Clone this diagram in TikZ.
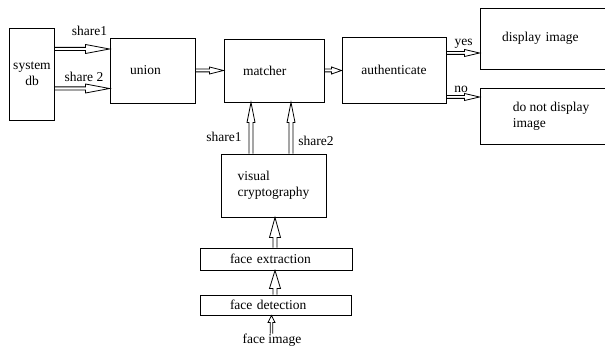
\documentclass[tikz,border=0pt]{standalone}
\usepackage{fontspec}
\setmainfont{Liberation Serif}
\usetikzlibrary{calc}

\tikzset{
  every node/.style={font=\fontsize{13.5}{16}\selectfont},
  box/.style 2 args={draw, line width=0.9pt, rectangle, inner sep=0pt,
    minimum width=#1pt, minimum height=#2pt, align=center},
  % left-aligned text in a field of the given width, centred in the box
  field/.style={align=left, text width=#1pt},
  lbl/.style={inner sep=0pt},
  blockline/.style={draw, line width=0.8pt, line join=miter},
}

% hollow block arrows from #4 to #5:
% #1 head length, #2 head half width, #3 shaft half width
% rightward
\newcommand\harr[5]{%
  \draw[blockline] let \p1=(#4), \p2=(#5) in
      (\x1,{\y1+#3pt}) -- ({\x2-#1pt},{\y1+#3pt}) -- ({\x2-#1pt},{\y1+#2pt})
      -- (\x2,\y1)
      -- ({\x2-#1pt},{\y1-#2pt}) -- ({\x2-#1pt},{\y1-#3pt}) -- (\x1,{\y1-#3pt});}
% upward
\newcommand\varr[5]{%
  \draw[blockline] let \p1=(#4), \p2=(#5) in
      ({\x1+#3pt},\y1) -- ({\x1+#3pt},{\y2-#1pt}) -- ({\x1+#2pt},{\y2-#1pt})
      -- (\x1,\y2)
      -- ({\x1-#2pt},{\y2-#1pt}) -- ({\x1-#3pt},{\y2-#1pt}) -- ({\x1-#3pt},\y1);}

\begin{document}
\begin{tikzpicture}[x=1pt,y=-1pt]
\useasboundingbox (0,0) rectangle (605,350);
\clip (0,0) rectangle (605,350);

% boxes
\node[box={45}{92}]  (db)      at (32,74)     {system\\db};
\node[box={85}{65}, field=45]  (union)   at (152.5,70.5) {union};
\node[box={100}{63}, field=62] (matcher) at (274,70.5)  {matcher};
\node[box={104}{66}] (auth)    at (394,70)    {authenticate};
\node[box={132}{61}, field=88] (disp)    at (546,38.5)  {display image};
\node[box={142}{56}, align=left] (nodisp) at (551,116) {do not display\\image};
\node[box={105}{63}, align=left] (vc) at (273.5,185.5) {visual\\cryptography};
\node[box={152}{22}, field=92] (fe)      at (276,259)   {face extraction};
\node[box={151}{20}, field=91] (fd)      at (275.5,305) {face detection};
\node[lbl]           (img)     at (272,340)   {face image};

% arrow levels
\coordinate (r1) at (0,49);
\coordinate (r2) at (0,88.5);
\coordinate (r3) at (0,70.5);
\coordinate (ry) at (0,53);
\coordinate (rn) at (0,97);
\coordinate (c1) at (251,0);
\coordinate (c2) at (291,0);
\coordinate (c3) at (275,0);
\coordinate (c4) at (271.5,0);

% connectors
\harr{24}{4.5}{1.6}{db.east |- r1}{union.west |- r1}
\harr{24}{4.5}{1.6}{db.east |- r2}{union.west |- r2}
\harr{14}{3.5}{1.4}{union.east |- r3}{matcher.west |- r3}
\harr{10}{3.5}{1.4}{matcher.east |- r3}{auth.west |- r3}
\harr{15}{3.5}{1.4}{auth.east |- ry}{disp.west |- ry}
\harr{15}{3.5}{1.4}{auth.east |- rn}{nodisp.west |- rn}
\varr{20}{4}{2}{vc.north -| c1}{matcher.south -| c1}
\varr{20}{4}{2}{vc.north -| c2}{matcher.south -| c2}
\varr{20}{5.5}{2}{fe.north -| c3}{vc.south -| c3}
\varr{18}{5.5}{2}{fd.north -| c3}{fe.south -| c3}
\varr{7}{3.5}{1.3}{img.north -| c4}{fd.south -| c4}

% connector labels
\node[lbl] (l1)  at (89.5,31)  {share1};
\node[lbl] (l2)  at (84,77)    {share 2};
\node[lbl] (ly)  at (463.5,44) {yes};
\node[lbl] (ln)  at (461,89)   {no};
\node[lbl] (l3)  at (224,137)  {share1};
\node[lbl] (l4)  at (316,141)  {share2};
\end{tikzpicture}
\end{document}
